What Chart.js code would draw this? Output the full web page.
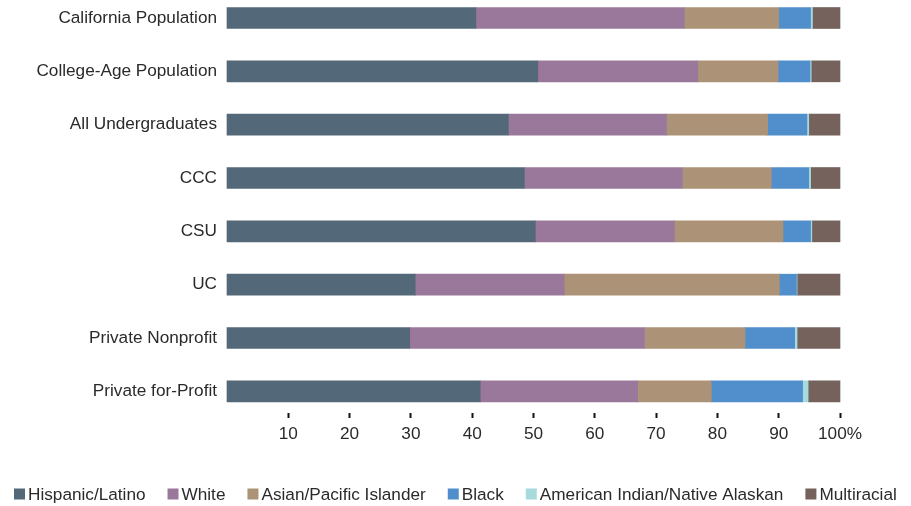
<!DOCTYPE html>
<html>
<head>
<meta charset="utf-8">
<script src="https://cdn.jsdelivr.net/npm/chart.js@4/dist/chart.umd.min.js"></script>
<style>
  html, body { margin: 0; padding: 0; background: #ffffff; }
  #wrap { width: 911px; height: 506px; position: relative; }
</style>
</head>
<body>
<div id="wrap"><canvas id="c" width="911" height="506"></canvas></div>
<script>
const categories = ["California Population", "College-Age Population", "All Undergraduates", "CCC", "CSU", "UC", "Private Nonprofit", "Private for-Profit"];
const seriesNames = ["Hispanic/Latino", "White", "Asian/Pacific Islander", "Black", "American Indian/Native Alaskan", "Multiracial"];
const hispanic = [40.6, 50.7, 45.9, 48.5, 50.3, 30.7, 29.8, 41.3];
const white    = [34.0, 26.1, 25.8, 25.8, 22.7, 24.3, 38.3, 25.7];
const asian    = [15.4, 13.1, 16.5, 14.5, 17.7, 35.1, 16.4, 12.0];
const black    = [5.2, 5.2, 6.4, 6.1, 4.5, 2.8, 8.1, 14.9];
const amIndian = [0.3, 0.2, 0.3, 0.3, 0.2, 0.1, 0.4, 0.9];
const multi    = [4.5, 4.7, 5.1, 4.8, 4.6, 7.0, 7.0, 5.2];
const tickValues = [10, 20, 30, 40, 50, 60, 70, 80, 90, 100];
const colors = ["#536979", "#9a789c", "#ac9377", "#508fcb", "#a6dadc", "#75625c"];

const seriesData = [hispanic, white, asian, black, amIndian, multi];
const fontFamily = "'Liberation Sans', Arial, sans-serif";
const fontSize = 17.2;
const font = { family: fontFamily, size: fontSize };
const textColor = '#2a2a2a';

// Single-row legend drawn on the canvas from the chart's datasets
const rowLegend = {
  id: 'rowLegend',
  afterDraw(chart) {
    const ctx = chart.ctx;
    const box = 11, boxGap = 3, itemGap = 22, cy = 494;
    ctx.save();
    ctx.font = `${fontSize}px ${fontFamily}`;
    ctx.textBaseline = 'middle';
    ctx.textAlign = 'left';
    const items = chart.data.datasets.map(ds => ({
      label: ds.label, color: ds.backgroundColor,
      w: box + boxGap + ctx.measureText(ds.label).width
    }));
    const total = items.reduce((s, it) => s + it.w, 0) + itemGap * (items.length - 1);
    let x = Math.round((chart.width - total) / 2);
    items.forEach(it => {
      ctx.fillStyle = it.color;
      ctx.fillRect(x, cy - box / 2, box, box);
      ctx.fillStyle = textColor;
      ctx.fillText(it.label, x + box + boxGap, cy + 1);
      x += it.w + itemGap;
    });
    ctx.restore();
  }
};

new Chart(document.getElementById('c'), {
  type: 'bar',
  data: {
    labels: categories,
    datasets: seriesNames.map((name, i) => ({
      label: name,
      data: seriesData[i],
      backgroundColor: colors[i],
      borderWidth: 0,
      barThickness: 21,
      clip: false
    }))
  },
  plugins: [rowLegend],
  options: {
    indexAxis: 'y',
    responsive: false,
    animation: false,
    layout: { padding: { left: 0, right: 71, top: 18, bottom: 55 } },
    plugins: {
      tooltip: { enabled: false },
      legend: { display: false }
    },
    scales: {
      x: {
        stacked: true,
        min: 0,
        max: 100,
        afterBuildTicks: (scale) => { scale.ticks = tickValues.map(v => ({ value: v })); },
        grid: {
          drawOnChartArea: false,
          drawTicks: true,
          tickLength: 27,
          tickWidth: 2,
          tickColor: '#111',
          tickBorderDash: [0, 22, 5, 0]
        },
        border: { display: false },
        ticks: {
          color: textColor,
          font: font,
          padding: 6,
          maxRotation: 0,
          autoSkip: false,
          callback: (v) => v === 100 ? '100%' : String(v)
        }
      },
      y: {
        stacked: true,
        offset: false,
        afterFit: (scale) => { scale.width = 227; scale.paddingTop = 0; scale.paddingBottom = 0; },
        grid: { display: false, drawTicks: false },
        border: { display: false },
        ticks: {
          color: textColor,
          font: font,
          padding: 10,
          autoSkip: false
        }
      }
    }
  }
});
</script>
</body>
</html>
